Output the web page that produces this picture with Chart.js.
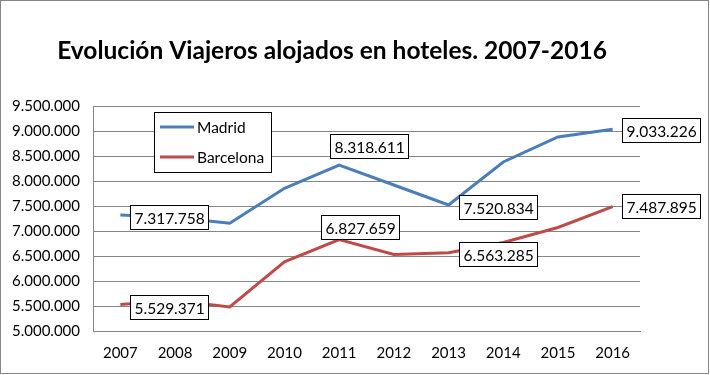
<!DOCTYPE html>
<html><head><meta charset="utf-8">
<script src="https://cdn.jsdelivr.net/npm/chart.js@4.4.0/dist/chart.umd.min.js"></script>
<style>html,body{margin:0;padding:0;background:#fff}canvas{display:block}</style>
</head><body>
<canvas id="c" width="710" height="375"></canvas>
<script>
// ---- data ----
const chartTitle = 'Evolución Viajeros alojados en hoteles. 2007-2016';
const years = ['2007','2008','2009','2010','2011','2012','2013','2014','2015','2016'];
const seriesNames = ['Madrid','Barcelona'];
const madrid = [7317758, 7270000, 7155000, 7855000, 8318611, 7920000, 7520834, 8380000, 8880000, 9033226];
const barcelona = [5529371, 5610000, 5480000, 6385000, 6827659, 6530000, 6563285, 6770000, 7070000, 7487895];
const yMin = 5000000, yMax = 9500000, yStep = 500000;
const labelledPoints = [0, 4, 6, 9];

// ---- style ----
const FONT = 'Lato, "Open Sans", sans-serif';
const colors = ['#4A7EBB', '#BE4B48'];
const gridColor = '#868686';
// label box offset (box left, box center y) relative to the point, per series / index
const labelOffsets = [
  {0:[10,1.5], 4:[-9,-19.5], 6:[10,1.8], 9:[9,0.2]},
  {0:[10,2.2], 4:[-18.6,-12.9], 6:[10,1.4], 9:[9,-0.4]}
];

function fmt(v){ return String(Math.round(v)).replace(/\B(?=(\d{3})+(?!\d))/g, '.'); }

const decor = {
  id: 'decor',
  afterDraw(chart){
    const ctx = chart.ctx;
    ctx.save();
    // outer border
    ctx.strokeStyle = '#868686'; ctx.lineWidth = 1;
    ctx.strokeRect(0.5, 0.5, 708, 373);
    // title
    ctx.fillStyle = '#000';
    ctx.font = 'bold 24.5px ' + FONT;
    ctx.textAlign = 'center'; ctx.textBaseline = 'middle';
    ctx.fillText(chartTitle, 332, 51);
    // data labels
    ctx.font = '15.5px ' + FONT;
    chart.data.datasets.forEach((ds, di) => {
      const meta = chart.getDatasetMeta(di);
      labelledPoints.forEach(i => {
        const p = meta.data[i];
        const off = labelOffsets[di][i];
        const txt = fmt(ds.data[i]);
        const w = Math.round(ctx.measureText(txt).width + 8);
        const h = 24;
        const x = Math.round(p.x + off[0]) + 0.5;
        const cy = p.y + off[1];
        const y = Math.round(cy - h/2) + 0.5;
        ctx.fillStyle = '#fff';
        ctx.fillRect(x, y, w, h);
        ctx.strokeStyle = '#000'; ctx.lineWidth = 1;
        ctx.strokeRect(x, y, w, h);
        ctx.fillStyle = '#000';
        ctx.textAlign = 'left'; ctx.textBaseline = 'middle';
        ctx.fillText(txt, x + 4, y + h/2 + 1);
      });
    });
    // legend
    const lx = 154.5, ly = 112.5, lw = 117, lh = 60;
    ctx.fillStyle = '#fff'; ctx.fillRect(lx, ly, lw, lh);
    ctx.strokeStyle = '#000'; ctx.strokeRect(lx, ly, lw, lh);
    chart.data.datasets.forEach((ds, di) => {
      const yy = 127 + di * 30;
      ctx.strokeStyle = ds.borderColor; ctx.lineWidth = 3;
      ctx.beginPath(); ctx.moveTo(160, yy); ctx.lineTo(194, yy); ctx.stroke();
      ctx.fillStyle = '#000'; ctx.font = '15.5px ' + FONT;
      ctx.textAlign = 'left'; ctx.textBaseline = 'middle';
      ctx.fillText(ds.label, 197, yy + 1);
    });
    ctx.restore();
  }
};

new Chart(document.getElementById('c'), {
  type: 'line',
  data: {
    labels: years,
    datasets: [
      {label: seriesNames[0], data: madrid, borderColor: colors[0], backgroundColor: colors[0], borderWidth: 3, pointRadius: 0, tension: 0},
      {label: seriesNames[1], data: barcelona, borderColor: colors[1], backgroundColor: colors[1], borderWidth: 3, pointRadius: 0, tension: 0}
    ]
  },
  options: {
    responsive: false,
    animation: false,
    devicePixelRatio: 1,
    layout: {padding: {top: 106, right: 70, bottom: 0, left: 0}},
    plugins: {legend: {display: false}, title: {display: false}, tooltip: {enabled: false}},
    scales: {
      x: {
        offset: true,
        grid: {display: false, drawTicks: false},
        border: {display: true, color: gridColor, width: 1},
        ticks: {color: '#000', font: {family: FONT, size: 15}, padding: 13, maxRotation: 0},
        afterFit(s){ s.height = 44; }
      },
      y: {
        min: yMin, max: yMax,
        grid: {color: gridColor, lineWidth: 1, drawTicks: false},
        border: {display: true, color: gridColor, width: 1},
        ticks: {stepSize: yStep, color: '#000', font: {family: FONT, size: 15}, padding: 13, callback: v => fmt(v)},
        afterFit(s){ s.width = 93; }
      }
    }
  },
  plugins: [decor]
});
</script>
</body></html>
